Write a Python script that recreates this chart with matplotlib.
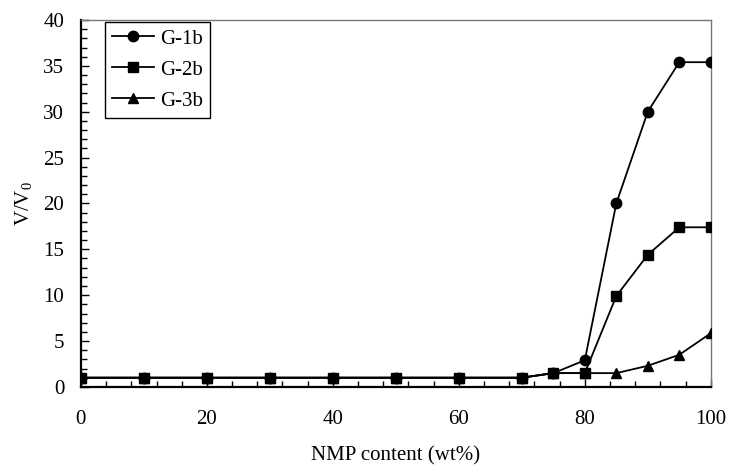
import matplotlib
matplotlib.use("Agg")
import matplotlib.pyplot as plt
from matplotlib.ticker import MultipleLocator

plt.rcParams['font.family'] = ['Liberation Serif', 'DejaVu Serif']
plt.rcParams['mathtext.fontset'] = 'custom'
plt.rcParams['mathtext.rm'] = 'Liberation Serif'

nmp = [0, 10, 20, 30, 40, 50, 60, 70, 75, 80, 85, 90, 95, 100]
g1b = [1.0, 1.0, 1.0, 1.0, 1.0, 1.0, 1.0, 1.0, 1.5, 2.9, 20.0, 30.0, 35.4, 35.4]
g2b = [1.0, 1.0, 1.0, 1.0, 1.0, 1.0, 1.0, 1.0, 1.5, 1.5, 9.9, 14.4, 17.4, 17.4]
g3b = [1.0, 1.0, 1.0, 1.0, 1.0, 1.0, 1.0, 1.0, 1.5, 1.5, 1.5, 2.3, 3.5, 5.85]

fig = plt.figure(figsize=(7.29, 4.65), dpi=100)
ax = fig.add_axes([0.111, 0.168, 0.864, 0.789])

ax.plot(nmp, g3b, color='black', marker='^', markersize=7.5, lw=1.3, label='G-3b', zorder=3)
ax.plot(nmp, g1b, color='black', marker='o', markersize=7.5, lw=1.3, label='G-1b', zorder=4)
ax.plot(nmp, g2b, color='black', marker='s', markersize=7.5, lw=1.3, label='G-2b', zorder=5)

ax.set_xlim(0, 100)
ax.set_ylim(0, 40)
ax.xaxis.set_major_locator(MultipleLocator(20))
ax.xaxis.set_minor_locator(MultipleLocator(4))
ax.yaxis.set_major_locator(MultipleLocator(5))
ax.yaxis.set_minor_locator(MultipleLocator(1))
ax.tick_params(which='both', direction='in', top=False, right=False, labelsize=15, width=1)
ax.tick_params(which='major', length=6)
ax.tick_params(which='minor', length=4)
ax.tick_params(axis='x', which='major', pad=17)
ax.tick_params(axis='y', which='major', pad=12)

for s in ['left', 'bottom']:
    ax.spines[s].set_linewidth(1.6)
for s in ['top', 'right']:
    ax.spines[s].set_color('#777777')
    ax.spines[s].set_linewidth(1)

ax.set_xlabel('NMP content (wt%)', fontsize=15, labelpad=12)
ax.set_ylabel('V/V$_0$', fontsize=15, labelpad=6)

handles, labels = ax.get_legend_handles_labels()
order = [1, 2, 0]
leg = ax.legend([handles[i] for i in order], [labels[i] for i in order],
                loc='upper left', bbox_to_anchor=(0.038, 0.995), borderaxespad=0,
                fontsize=15, frameon=True, fancybox=False, edgecolor='black',
                framealpha=1, handlelength=2.0, handletextpad=0.3, borderpad=0.35,
                labelspacing=0.55)
leg.get_frame().set_linewidth(1)

fig.savefig('out.png', dpi=100)
